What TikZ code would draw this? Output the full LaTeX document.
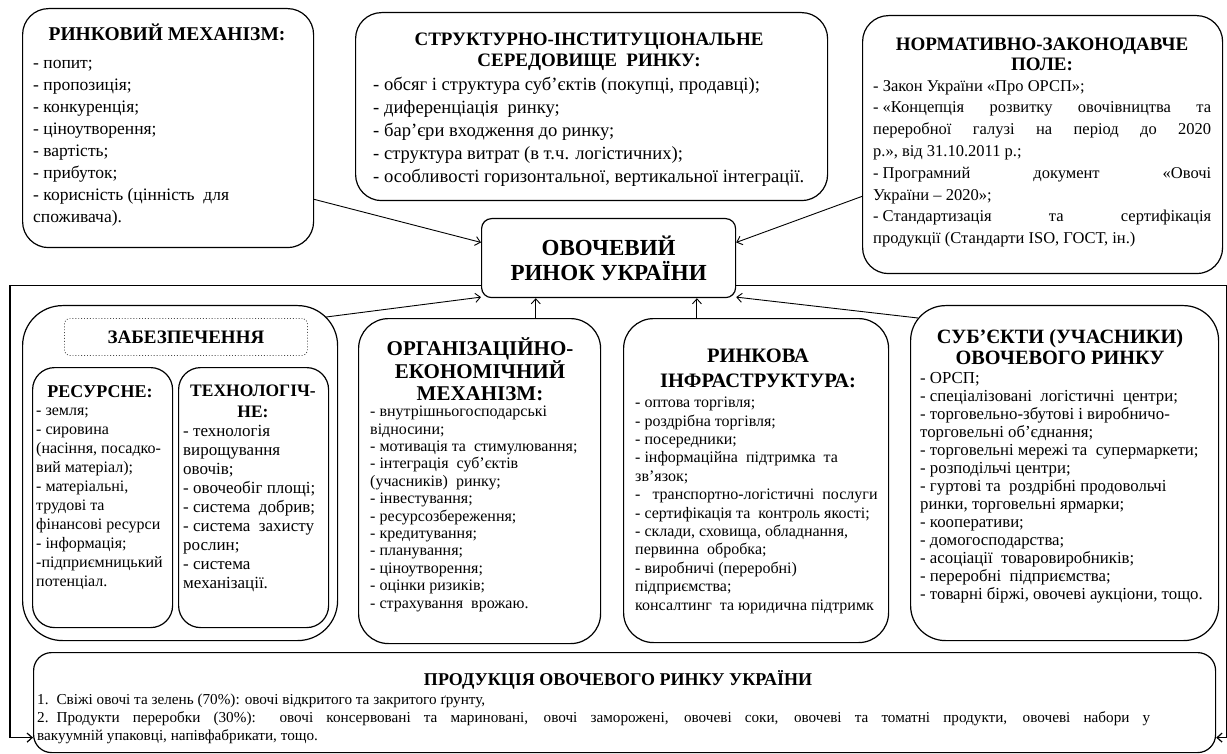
\documentclass[tikz,border=0pt]{standalone}
\usepackage{fontspec}
\setmainfont{Liberation Serif}
\usetikzlibrary{arrows.meta,calc}

\tikzset{
  panel/.style={draw, line width=1.2pt, rounded corners=#1, anchor=north west, inner sep=0pt},
  head/.style={align=center, inner sep=0pt, anchor=north},
  list/.style={align=left, inner sep=0pt, anchor=north west},
  arr/.style={-{Straight Barb[length=5pt,width=9pt]}, line width=0.9pt},
}

\begin{document}
\begin{tikzpicture}[x=1pt, y=-1pt]
\useasboundingbox (0,0) rectangle (1227,754);

% upper row
\node[panel=26, minimum width=291, minimum height=239] (rm) at (22,8) {};
\node[head, font=\fontsize{19.5}{21}\selectfont\bfseries] (rmt) at (167,24) {РИНКОВИЙ МЕХАНІЗМ:};
\node[list, font=\fontsize{17.5}{22}\selectfont] (rmb) at (33,60)
  {- попит;\\- пропозиція;\\- конкуренція;\\- ціноутворення;\\- вартість;\\- прибуток;\\- корисність (цінність\ \ для\\споживача).};

\node[panel=26, minimum width=472, minimum height=188] (si) at (355,12) {};
\node[head, font=\fontsize{19}{21}\selectfont\bfseries] (sit) at (589,33) {СТРУКТУРНО-ІНСТИТУЦІОНАЛЬНЕ\\СЕРЕДОВИЩЕ\ \ РИНКУ:};
\node[list, font=\fontsize{18.6}{23}\selectfont] (sib) at (373,77)
  {- обсяг і структура суб’єктів (покупці, продавці);\\- диференціація\ \ ринку;\\- бар’єри входження до ринку;\\- структура витрат (в т.ч. логістичних);\\- особливості горизонтальної,\ вертикальної інтеграції.};

\node[panel=26, minimum width=360, minimum height=258] (nz) at (862,15) {};
\node[head, font=\fontsize{19}{20}\selectfont\bfseries] (nzt) at (1042,38) {НОРМАТИВНО-ЗАКОНОДАВЧЕ\\ПОЛЕ:};
\node[list, text width=338, align=justify, font=\fontsize{16.5}{21.8}\selectfont] (nzb) at (873,80)
  {- Закон України «Про ОРСП»;\\-\hspace{4pt}«Концепція розвитку овочівництва та\linebreak переробної галузі на період до 2020\linebreak р.», від 31.10.2011 р.;\\-\hspace{4pt}Програмний документ «Овочі\linebreak України – 2020»;\\-\hspace{4pt}Стандартизація та сертифікація\linebreak продукції (Стандарти ISO, ГОСТ, ін.)};

% centre
\node[draw, line width=1.2pt, rounded corners=10, minimum width=254, minimum height=79, anchor=north west,
  align=center, font=\fontsize{23}{25}\selectfont\bfseries] (ctr) at (481,218) {ОВОЧЕВИЙ\\РИНОК УКРАЇНИ};

% lower row
\node[panel=40, minimum width=315, minimum height=335] (zab) at (22,305) {};
\node[draw=black!70, dotted, line width=0.9pt, rounded corners=5, minimum width=243, minimum height=37,
  anchor=north west, font=\fontsize{19}{21}\selectfont\bfseries] (zabt) at (64,318) {ЗАБЕЗПЕЧЕННЯ};
\node[panel=22, minimum width=140, minimum height=260] (res) at (32,367) {};
\node[head, font=\fontsize{18}{21}\selectfont\bfseries] (rest) at (100,385) {РЕСУРСНЕ:};
\node[list, font=\fontsize{16}{19}\selectfont] (resb) at (36,408)
  {- земля;\\- сировина\\(насіння, посадко-\\вий матеріал);\\- матеріальні,\\трудові та\\фінансові ресурси\\- інформація;\\-підприємницький\\потенціал.};
\node[panel=22, minimum width=150, minimum height=260] (tech) at (178,367) {};
\node[head, font=\fontsize{17.5}{20.5}\selectfont\bfseries] (techt) at (253,385) {ТЕХНОЛОГІЧ-\\НЕ:};
\node[list, font=\fontsize{17}{19}\selectfont] (techb) at (183,425)
  {- технологія\\вирощування\\овочів;\\- овочеобіг площі;\\- система\ \ добрив;\\- система\ \ захисту\\рослин;\\- система\\механізації.};

\node[panel=30, minimum width=242, minimum height=325] (org) at (358,318) {};
\node[head, font=\fontsize{21}{22}\selectfont\bfseries] (orgt) at (480,337) {ОРГАНІЗАЦІЙНО-\\ЕКОНОМІЧНИЙ\\МЕХАНІЗМ:};
\node[list, font=\fontsize{16}{17.4}\selectfont] (orgb) at (370,406)
  {- внутрішньогосподарські\\відносини;\\- мотивація та\ \ стимулювання;\\- інтеграція\ \ суб’єктів\\(учасників)\ \ ринку;\\- інвестування;\\- ресурсозбереження;\\- кредитування;\\- планування;\\- ціноутворення;\\- оцінки ризиків;\\- страхування\ \ врожаю.};

\node[panel=30, minimum width=265, minimum height=324] (inf) at (623,318) {};
\node[head, font=\fontsize{20.5}{25}\selectfont\bfseries] (inft) at (758,349) {РИНКОВА\\ІНФРАСТРУКТУРА:};
\node[list, font=\fontsize{16}{18.4}\selectfont] (infb) at (635,397)
  {- оптова торгівля;\\- роздрібна торгівля;\\- посередники;\\- інформаційна\ \ підтримка\ \ та\\зв'язок;\\-\ \ \ транспортно-логістичні\ \ послуги\\- сертифікація та\ \ контроль якості;\\- склади, сховища, обладнання,\\первинна\ \ обробка;\\- виробничі (переробні)\\підприємства;\\консалтинг\ \ та юридична підтримк};

\node[panel=35, minimum width=308, minimum height=335] (sub) at (910,305) {};
\node[head, font=\fontsize{20.3}{21}\selectfont\bfseries] (subt) at (1060,329) {СУБ’ЄКТИ (УЧАСНИКИ)\\ОВОЧЕВОГО РИНКУ};
\node[list, font=\fontsize{16.8}{18}\selectfont] (subb) at (920,372)
  {- ОРСП;\\- спеціалізовані\ \ логістичні\ \ центри;\\- торговельно-збутові і виробничо-\\торговельні об’єднання;\\- торговельні мережі та\ \ супермаркети;\\- розподільчі центри;\\- гуртові та\ \ роздрібні продовольчі\\ринки, торговельні ярмарки;\\- кооперативи;\\- домогосподарства;\\- асоціації\ \ товаровиробників;\\- переробні\ \ підприємства;\\- товарні біржі, овочеві аукціони, тощо.};

% products
\node[panel=18, minimum width=1182, minimum height=100] (prod) at (33,652) {};
\node[head, font=\fontsize{18}{19}\selectfont\bfseries] (prodt) at (618,670) {ПРОДУКЦІЯ ОВОЧЕВОГО РИНКУ УКРАЇНИ};
\node[list, text width=1113, align=justify, font=\fontsize{15.2}{18}\selectfont] (prodb) at (37,694)
  {1.\hspace{8pt}Свіжі овочі та зелень (70\%): овочі відкритого та закритого ґрунту,\\2.\hspace{8pt}Продукти переробки (30\%): овочі консервовані та мариновані, овочі заморожені, овочеві соки, овочеві та томатні продукти, овочеві набори у\linebreak вакуумній упаковці, напівфабрикати, тощо.};

% connectors
\draw[arr] (rm.-26) -- (ctr.173);
\draw[arr] (nz.196) -- (ctr.7);
\draw[arr] ($(zab.north east)+(-12,12)$) -- (ctr.197);
\draw[arr] (org.71) -- (org.71 |- ctr.south);
\draw[arr] (inf.110) -- (inf.110 |- ctr.south);
\draw[arr] ($(sub.north west)+(8,13)$) -- (ctr.-17);

\coordinate (fl) at (10,285);
\coordinate (fr) at (1226.5,285);
\coordinate (pl) at ($(prod.west)+(0,35)$);
\coordinate (pr) at ($(prod.east)+(0,35)$);
\draw[arr, line width=1.2pt] (ctr.192) -| (fl |- pl) -- (pl);
\draw[arr, line width=1.2pt] (ctr.-12) -| (fr |- pr) -- (pr);
\end{tikzpicture}
\end{document}
